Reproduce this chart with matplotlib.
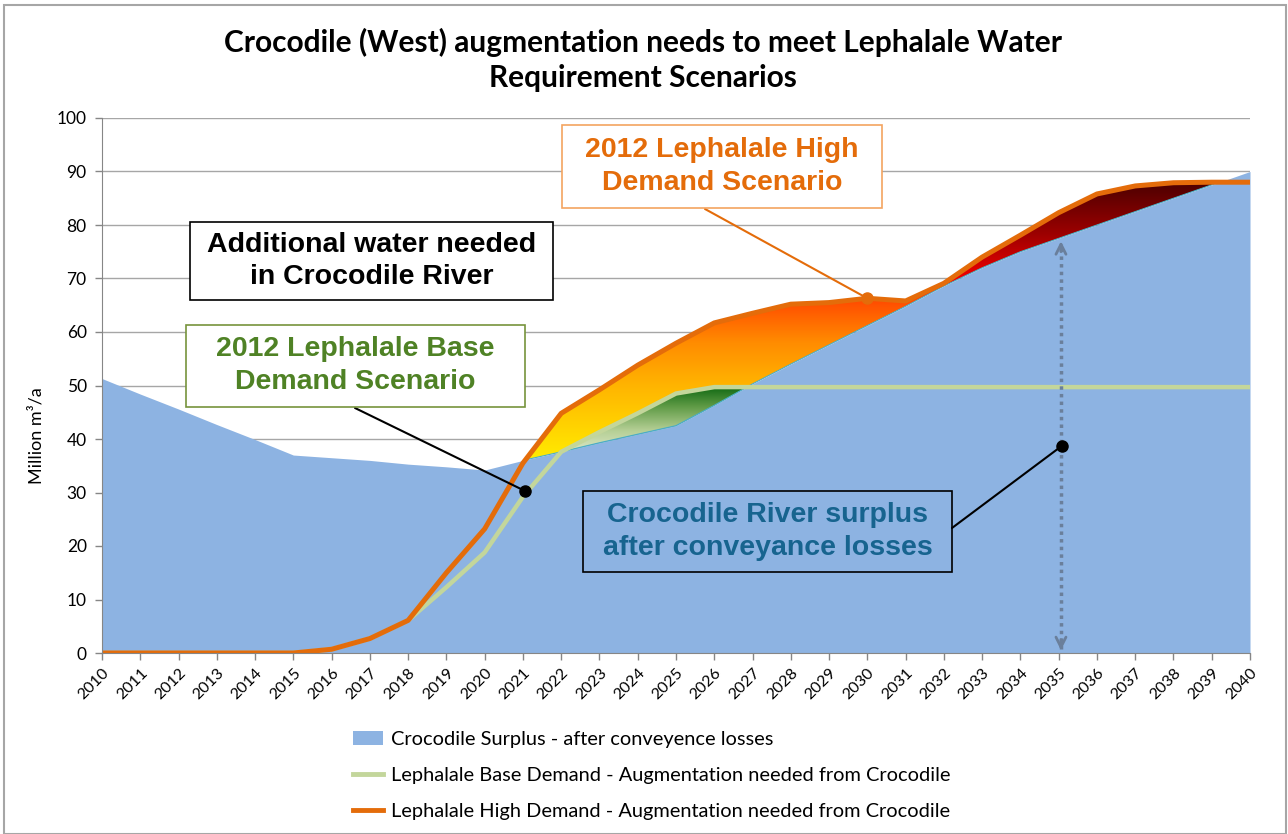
import numpy as np
import matplotlib
matplotlib.use("Agg")
import matplotlib.pyplot as plt
from matplotlib.colors import LinearSegmentedColormap, Normalize
from matplotlib.patches import Patch, Rectangle
from matplotlib.lines import Line2D
from matplotlib.path import Path

# ---------------- data ----------------
years = list(range(2010, 2041))
surplus = [51.3, 48.4, 45.6, 42.7, 39.9, 37.0, 36.5, 36.0, 35.3, 34.8, 34.2,
           36.0, 37.6, 39.3, 40.9, 42.5, 46.3, 50.3, 54.0, 57.6, 61.2,
           64.8, 68.6, 72.0, 75.0, 77.5, 80.0, 82.5, 85.0, 87.5, 90.0]
base_demand = [0, 0, 0, 0, 0, 0, 0.7, 2.7, 6.1, 12.3, 18.8,
               29.2, 37.6, 41.3, 44.8, 48.5, 49.7, 49.7, 49.7, 49.7, 49.7,
               49.7, 49.7, 49.7, 49.7, 49.7, 49.7, 49.7, 49.7, 49.7, 49.7]
high_demand = [0, 0, 0, 0, 0, 0, 0.7, 2.7, 6.1, 15.0, 23.2,
               35.5, 44.8, 49.2, 53.8, 57.9, 61.7, 63.5, 65.2, 65.5, 66.3,
               65.8, 69.1, 74.0, 78.1, 82.3, 85.8, 87.3, 87.9, 88.0, 88.0]
yticks = list(range(0, 101, 10))
legend_labels = ["Crocodile Surplus - after conveyence losses",
                 "Lephalale Base Demand - Augmentation needed from Crocodile",
                 "Lephalale High Demand - Augmentation needed from Crocodile"]
title = "Crocodile (West) augmentation needs to meet Lephalale Water\nRequirement Scenarios"

# ---------------- styling ----------------
C_SURPLUS = "#8DB3E2"
C_BASE = "#C3D69B"
C_HIGH = "#E46C0A"
FONT = "Lato"
BOLD_FONT = "Liberation Sans"

W, H = 1288, 834
fig = plt.figure(figsize=(W / 100, H / 100), dpi=100)


def fx(x):
    return x / W


def fy(y):
    return 1 - y / H


ax = fig.add_axes([fx(102), fy(653), fx(1250) - fx(102), fy(118) - fy(653)])

yrs = np.array(years, dtype=float)
sur = np.array(surplus)
base = np.array(base_demand)
high = np.array(high_demand)

# surplus area
ax.fill_between(yrs, 0, sur, color=C_SURPLUS, lw=0, zorder=1)

# high-demand gradient fill
hp = ax.fill_between(yrs, sur, high, where=high >= sur, interpolate=True,
                     facecolor="none", edgecolor="#4BACC6", lw=0.8, zorder=3)
cmap_high = LinearSegmentedColormap.from_list("high", [
    (0.0, "#FFF000"), ((50 - 35) / 55, "#FFB400"), ((58 - 35) / 55, "#FF8C00"),
    ((66.3 - 35) / 55, "#FF4800"), ((67.8 - 35) / 55, "#FF1000"),
    ((70 - 35) / 55, "#F00000"), ((78 - 35) / 55, "#A00000"),
    (1.0, "#3C0000")])
grad = np.linspace(35, 90, 400).reshape(-1, 1)
im = ax.imshow(grad, extent=[2010, 2040, 35, 90], origin="lower", aspect="auto",
               cmap=cmap_high, norm=Normalize(35, 90), zorder=2, interpolation="bicubic")
paths = [p for p in hp.get_paths() if len(p.vertices) > 2]
im.set_clip_path(Path.make_compound_path(*paths), ax.transData)

# base-demand gradient fill
bp = ax.fill_between(yrs, sur, base, where=base >= sur, interpolate=True,
                     facecolor="none", edgecolor="#4BACC6", lw=0.8, zorder=5)
cmap_base = LinearSegmentedColormap.from_list("base", [
    (0.0, "#E0EACB"), (0.35, "#B5CF95"), (0.7, "#5E9A45"), (1.0, "#0B650F")])
gradb = np.linspace(37, 50, 200).reshape(-1, 1)
im2 = ax.imshow(gradb, extent=[2010, 2040, 37, 50], origin="lower", aspect="auto",
                cmap=cmap_base, norm=Normalize(37, 50), zorder=4, interpolation="bicubic")
pathsb = [p for p in bp.get_paths() if len(p.vertices) > 2]
im2.set_clip_path(Path.make_compound_path(*pathsb), ax.transData)

# demand lines
ax.plot(yrs, base, color=C_BASE, lw=3.2, zorder=6, solid_capstyle="butt")
ax.plot(yrs, high, color=C_HIGH, lw=3.6, zorder=7, solid_capstyle="butt")

ax.set_xlim(2010, 2040)
ax.set_ylim(0, 100)
ax.set_yticks(yticks)
ax.set_xticks(years)
ax.set_xticklabels([str(y) for y in years], rotation=45, ha="right", va="top",
                   rotation_mode="anchor", fontsize=11.5, family=FONT)
ax.set_yticklabels([str(v) for v in yticks], fontsize=12.5, family=FONT)
ax.tick_params(axis="both", length=5, color="#868686", width=1, pad=4)
ax.tick_params(axis="y", pad=6)
ax.grid(axis="y", color="#A6A6A6", lw=1, zorder=0)
ax.set_axisbelow(True)
for s in ["top", "right"]:
    ax.spines[s].set_visible(False)
for s in ["left", "bottom"]:
    ax.spines[s].set_color("#868686")
    ax.spines[s].set_zorder(8)

# dotted double arrow at 2035
xa = 2035.06
ax.plot([xa, xa], [0.8, 76.5], color="#6A7F9B", lw=2.5, ls=(0, (1, 1.2)), zorder=6)
ax.annotate("", xy=(xa, 77.5), xytext=(xa, 74.5),
            arrowprops=dict(arrowstyle="->", color="#6A7F9B", lw=2, mutation_scale=18), zorder=6)
ax.annotate("", xy=(xa, 0.0), xytext=(xa, 3.0),
            arrowprops=dict(arrowstyle="->", color="#6A7F9B", lw=2, mutation_scale=18), zorder=6)

# title and y label
fig.text(fx(643), fy(60), title, ha="center", va="center", fontsize=21.5,
         fontweight="bold", family=FONT, linespacing=1.3)
fig.text(fx(37), fy(436), "Million m³/a", rotation=90, ha="center", va="center",
         fontsize=13, family=FONT)


def box(x0, y0, x1, y1, text, tcolor, ecolor, face="white", lw=1.2):
    r = Rectangle((fx(x0), fy(y1)), fx(x1) - fx(x0), fy(y0) - fy(y1),
                  transform=fig.transFigure, facecolor=face, edgecolor=ecolor,
                  lw=lw, zorder=20)
    fig.patches.append(r)
    fig.text(fx((x0 + x1) / 2), fy((y0 + y1) / 2), text, ha="center", va="center",
             fontsize=20.5, fontweight="bold", color=tcolor, family=BOLD_FONT,
             linespacing=1.35, zorder=21)


def connector(data_pt, fig_px, color, lw=1.5):
    ax.annotate("", xy=data_pt, xycoords="data",
                xytext=(fx(fig_px[0]), fy(fig_px[1])), textcoords="figure fraction",
                arrowprops=dict(arrowstyle="-", color=color, lw=lw,
                                shrinkA=0, shrinkB=0), zorder=15)
    ax.plot([data_pt[0]], [data_pt[1]], "o", color=color, ms=8, zorder=16)


box(190, 222, 553, 300, "Additional water needed\nin Crocodile River", "black", "black")
box(562, 125, 882, 208, "2012 Lephalale High\nDemand Scenario", C_HIGH, "#F4A460")
box(186, 325, 525, 407, "2012 Lephalale Base\nDemand Scenario", "#4F8225", "#77933C")
box(583, 491, 952, 572, "Crocodile River surplus\nafter conveyance losses", "#17648F",
    "black", face="none")

connector((2030.0, 66.3), (705, 209), C_HIGH)
connector((2021.05, 30.3), (355, 408), "black")
connector((2035.08, 38.7), (952, 528), "black")

# legend
handles = [Patch(facecolor=C_SURPLUS, edgecolor="none"),
           Line2D([], [], color=C_BASE, lw=3.5),
           Line2D([], [], color=C_HIGH, lw=3.5)]
fig.legend(handles, legend_labels, loc="upper left",
           bbox_to_anchor=(fx(345), fy(723)), frameon=False,
           prop={"family": FONT, "size": 14.4}, handlelength=1.5,
           handletextpad=0.4, labelspacing=0.95, borderaxespad=0)

# outer chart border
fig.patches.append(Rectangle((fx(4), fy(834)), fx(1286) - fx(4), fy(5) - fy(834),
                             transform=fig.transFigure, facecolor="none",
                             edgecolor="#A6A6A6", lw=1.5, zorder=30))

fig.savefig("out.png", dpi=100)
